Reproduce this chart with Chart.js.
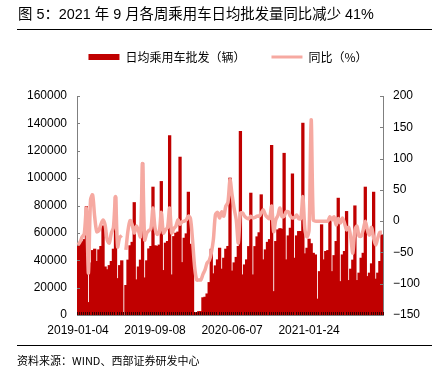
<!DOCTYPE html>
<html>
<head>
<meta charset="utf-8">
<script src="https://cdn.jsdelivr.net/npm/chart.js@4.4.0/dist/chart.umd.min.js"></script>
<style>
body{margin:0;background:#fff;}
#wrap{position:relative;width:440px;height:378px;overflow:hidden;font-family:"Liberation Sans","Noto Sans CJK SC",sans-serif;}
#title{position:absolute;left:18px;top:7px;font-size:14.4px;line-height:15px;color:#000;white-space:nowrap;}
.rule{position:absolute;left:17px;width:415px;height:1px;background:#000;}
#source{position:absolute;left:17px;top:355px;font-size:11px;line-height:11px;color:#000;white-space:nowrap;font-family:"Noto Sans CJK SC","Liberation Sans",sans-serif;}
canvas{position:absolute;left:0;top:0;}
</style>
</head>
<body>
<div id="wrap">
  <canvas id="chart" width="440" height="378"></canvas>
  <div id="title">图 5：2021 年 9 月各周乘用车日均批发量同比减少 41%</div>
  <div class="rule" style="top:29px"></div>
  <div class="rule" style="top:345px"></div>
  <div id="source">资料来源：WIND、西部证券研发中心</div>
</div>
<script>
/* ---------- DATA ---------- */
const dates = [
  "2019-01-04","2019-01-13","2019-01-20","2019-01-27","2019-01-31","2019-02-10","2019-02-17","2019-02-24","2019-02-28","2019-03-10",
  "2019-03-17","2019-03-24","2019-03-31","2019-04-07","2019-04-14","2019-04-21","2019-04-25","2019-04-28","2019-04-30","2019-05-12",
  "2019-05-19","2019-05-26","2019-05-31","2019-06-09","2019-06-16","2019-06-23","2019-06-30","2019-07-07","2019-07-14","2019-07-21",
  "2019-07-28","2019-07-31","2019-08-11","2019-08-18","2019-08-25","2019-08-28","2019-08-31","2019-09-08","2019-09-15","2019-09-22",
  "2019-09-30","2019-10-13","2019-10-20","2019-10-27","2019-10-31","2019-11-03","2019-11-10","2019-11-17","2019-11-24","2019-11-30",
  "2019-12-08","2019-12-15","2019-12-22","2019-12-31","2020-01-05","2020-01-12","2020-01-19","2020-01-31","2020-02-09","2020-02-16",
  "2020-02-23","2020-02-29","2020-03-08","2020-03-15","2020-03-22","2020-03-31","2020-04-05","2020-04-12","2020-04-19","2020-04-26",
  "2020-04-30","2020-05-10","2020-05-17","2020-05-31","2020-06-07","2020-06-14","2020-06-21","2020-06-28","2020-06-30","2020-07-05",
  "2020-07-12","2020-07-19","2020-07-26","2020-07-31","2020-08-09","2020-08-16","2020-08-23","2020-08-30","2020-08-31","2020-09-06",
  "2020-09-13","2020-09-20","2020-09-27","2020-09-30","2020-10-11","2020-10-18","2020-10-25","2020-10-28","2020-10-30","2020-10-31",
  "2020-11-08","2020-11-15","2020-11-22","2020-11-30","2020-12-06","2020-12-13","2020-12-20","2020-12-27","2020-12-31","2021-01-10",
  "2021-01-17","2021-01-24","2021-01-31","2021-02-03","2021-02-07","2021-02-14","2021-02-21","2021-02-28","2021-03-07","2021-03-14",
  "2021-03-21","2021-03-31","2021-04-11","2021-04-18","2021-04-25","2021-04-30","2021-05-09","2021-05-16","2021-05-23","2021-05-31",
  "2021-06-06","2021-06-13","2021-06-20","2021-06-30","2021-07-04","2021-07-11","2021-07-18","2021-07-25","2021-07-31","2021-08-08",
  "2021-08-15","2021-08-22","2021-08-31","2021-09-05","2021-09-12","2021-09-19","2021-09-26"
];

// 日均乘用车批发（辆）
const wholesale = [
  50000,51500,53500,55000,79000,9000,38000,47000,48000,39000,
  47500,50000,65000,35000,33000,36000,39000,48000,86000,26500,
  36000,39500,null,21500,40000,50500,53000,82000,25600,35000,
  40000,110800,27000,39500,48200,50000,93300,50500,50000,51000,
  97400,32400,52400,53600,130800,29200,57200,59700,60500,115200,
  38200,56000,59200,89600,51600,47000,1500,1500,2400,2400,
  12500,12900,15300,23600,48000,30000,35800,40200,48700,33400,
  41400,48000,50000,99900,32000,38000,42000,50000,133900,29200,
  36500,40200,49900,88900,29200,49900,57000,60000,87700,40200,
  47500,53000,55000,123700,17000,53600,62100,63000,62600,118000,
  40200,57700,63300,103000,41400,57700,60900,60900,140000,44600,
  48700,55300,52000,45000,43800,11500,31600,65800,40200,46300,
  47000,71100,31600,43300,53600,85200,24300,43800,46300,75500,
  25100,33400,40000,79600,25100,30500,41400,45000,93300,28000,
  30500,37300,89600,26100,30500,39000,58400
];

// 同比（%）
const yoy = [
  -38,-33,-25,-20,20,-83,34,42,7,-17,
  -15,-5,2,-6,-30,-35,-19,-10,39,-41,
  -26,-23,null,-46,-15,1,-6,-19,-8,-15,
  -25,92,-30,-19,-15,-12,21,-11,-21,-18,
  14,-19,-14,-10,21,-19,-12,-8,2,-5,
  -1,0,2,8,4,-30,-73,-94,-94,-94,
  -85,-78,-67,-63,-51,-30,10,14,5,15,
  8,24,30,66,42,20,2,-35,13,13,
  8,5,4,8,5,6,8,8,13,18,
  10,6,4,24,-17,2,9,21,7,8,
  15,15,8,5,6,10,4,4,39,-14,
  -25,-14,162,2,0,0,0,0,0,0,
  0,7,2,7,-6,4,-3,5,-3,-14,
  -10,-26,-51,-14,-8,-24,-24,-14,0,-14,
  -22,-10,-27,-38,-27,-18,-18
];

const labelEvery = 37;

/* ---------- PLUGINS ---------- */
// fixed legend block height so the plot area sits where the original has it
const legendFix = {
  id: "legendFix",
  beforeUpdate(chart) {
    const lg = chart.legend;
    if (lg && !lg._fixed) {
      const fit = lg.fit;
      lg.fit = function () { fit.call(this); this.height = 71; };
      lg._fixed = true;
    }
  }
};

// small tick marks pointing into the plot
const innerTicks = {
  id: "innerTicks",
  afterDatasetsDraw(chart) {
    const { ctx, chartArea: a, scales: { x, y, y1 } } = chart;
    ctx.save();
    ctx.lineWidth = 1;
    ctx.strokeStyle = "#7f7f7f";
    ctx.beginPath();
    y.ticks.forEach((t, i) => {
      const py = Math.round(y.getPixelForTick(i)) + 0.5;
      ctx.moveTo(a.left, py); ctx.lineTo(a.left + 3, py);
    });
    y1.ticks.forEach((t, i) => {
      const py = Math.round(y1.getPixelForTick(i)) + 0.5;
      ctx.moveTo(a.right - 3, py); ctx.lineTo(a.right, py);
    });
    ctx.stroke();
    ctx.strokeStyle = "#3a0000";
    ctx.beginPath();
    const w = x.getPixelForValue(1) - x.getPixelForValue(0);
    for (let i = 0; i <= dates.length; i++) {
      const px = Math.round(x.getPixelForValue(i) - w / 2) + 0.5;
      ctx.moveTo(px, a.bottom); ctx.lineTo(px, a.bottom - 3);
    }
    ctx.stroke();
    ctx.restore();
  }
};

/* ---------- CHART ---------- */
const tickFont = { family: '"Liberation Sans", Arial, sans-serif', size: 12 };

new Chart(document.getElementById("chart"), {
  data: {
    labels: dates,
    datasets: [
      {
        type: "bar", label: "日均乘用车批发（辆）", data: wholesale,
        backgroundColor: "#C00000", borderWidth: 0, inflateAmount: 0.6,
        categoryPercentage: 1, barPercentage: 1,
        yAxisID: "y", order: 2
      },
      {
        type: "line", label: "同比（%）", data: yoy,
        borderColor: "#F6A9A1", backgroundColor: "#F6A9A1",
        borderWidth: 3.5, pointRadius: 0, tension: 0.3,
        yAxisID: "y1", order: 1
      }
    ]
  },
  options: {
    responsive: false,
    animation: false,
    layout: { padding: { top: 25, left: 16, right: 0, bottom: 0 } },
    plugins: {
      tooltip: { enabled: false },
      legend: {
        position: "top",
        labels: {
          usePointStyle: true, pointStyleWidth: 31, boxHeight: 6, padding: 26,
          color: "#000",
          font: { family: '"Noto Sans CJK SC", sans-serif', size: 12 },
          generateLabels: chart => chart.data.datasets.map((ds, i) => ({
            text: ds.label,
            fillStyle: ds.backgroundColor,
            strokeStyle: ds.type === "line" ? ds.borderColor : ds.backgroundColor,
            lineWidth: ds.type === "line" ? 3 : 0,
            pointStyle: ds.type === "line" ? "line" : "rect",
            fontColor: "#000",
            hidden: false,
            datasetIndex: i
          }))
        }
      }
    },
    scales: {
      x: {
        grid: { drawOnChartArea: false, drawTicks: false },
        border: { color: "#7f7f7f" },
        ticks: {
          autoSkip: false, maxRotation: 0, minRotation: 0, padding: 8,
          color: "#000", font: tickFont,
          callback: (v, i) => (i % labelEvery === 0 ? dates[i] : "")
        },
        afterFit: s => { s.height = 63; }
      },
      y: {
        position: "left", min: 0, max: 160000,
        grid: { drawOnChartArea: false, drawTicks: false },
        border: { color: "#7f7f7f" },
        ticks: { stepSize: 20000, padding: 10, color: "#000", font: tickFont, callback: v => String(v) },
        afterFit: s => { s.width = 61; }
      },
      y1: {
        position: "right", min: -150, max: 200,
        grid: { drawOnChartArea: false, drawTicks: false },
        border: { color: "#7f7f7f" },
        ticks: { stepSize: 50, padding: 10, color: "#000", font: tickFont, callback: v => String(v).replace("-", "\u2212") },
        afterFit: s => { s.width = 57; }
      }
    }
  },
  plugins: [legendFix, innerTicks]
});
</script>
</body>
</html>
